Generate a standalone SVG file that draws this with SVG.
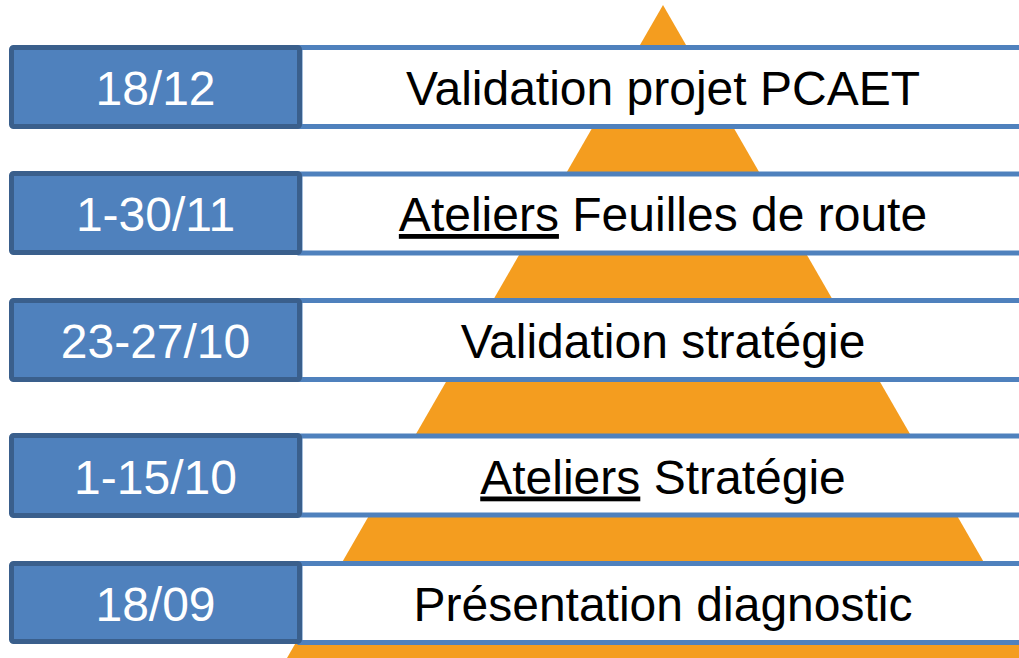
<svg xmlns="http://www.w3.org/2000/svg" width="1019" height="658" viewBox="0 0 1019 658">
<style>
.band{fill:#FFFFFF;stroke:#4F81BD;stroke-width:5}
.date{fill:#4F81BD;stroke:#3A5F8C;stroke-width:5}
.dt{font-family:"Liberation Sans",Arial,sans-serif;font-size:48px;fill:#FFFFFF;text-anchor:middle}
.lb{font-family:"Liberation Sans",Arial,sans-serif;font-size:48px;fill:#000000;text-anchor:middle}
.u{text-decoration:underline}
</style>
<rect width="1019" height="658" fill="#FFFFFF"/>
<g id="pyramid">
<polygon points="663,5 1039,658 287,658" fill="#F49D1F"/>
</g>
<g id="connectors"></g>
<g id="row1">
<rect class="band" x="300" y="47.5" width="760" height="79"/>
<rect class="date" x="11.5" y="47.5" width="288" height="79" rx="2"/>
<text class="dt" x="155.5" y="105">18/12</text>
<text class="lb" x="663" y="105">Validation projet PCAET</text>
</g>
<g id="row2">
<rect class="band" x="300" y="174" width="760" height="79"/>
<rect class="date" x="11.5" y="173.5" width="288" height="79" rx="2"/>
<text class="dt" x="155.5" y="231">1-30/11</text>
<text class="lb" x="663" y="231"><tspan class="u">Ateliers</tspan> Feuilles de route</text>
</g>
<g id="row3">
<rect class="band" x="300" y="300.5" width="760" height="79"/>
<rect class="date" x="11.5" y="300.5" width="288" height="79" rx="2"/>
<text class="dt" x="155.5" y="358">23-27/10</text>
<text class="lb" x="663" y="358">Validation stratégie</text>
</g>
<g id="row4">
<rect class="band" x="300" y="436" width="760" height="79"/>
<rect class="date" x="11.5" y="435.5" width="288" height="80" rx="2"/>
<text class="dt" x="155.5" y="493.5">1-15/10</text>
<text class="lb" x="663" y="493.5"><tspan class="u">Ateliers</tspan> Stratégie</text>
</g>
<g id="row5">
<rect class="band" x="300" y="563.5" width="760" height="79"/>
<rect class="date" x="11.5" y="563.5" width="288" height="78" rx="2"/>
<text class="dt" x="155.5" y="620.5">18/09</text>
<text class="lb" x="663" y="620.5">Présentation diagnostic</text>
</g>
</svg>
